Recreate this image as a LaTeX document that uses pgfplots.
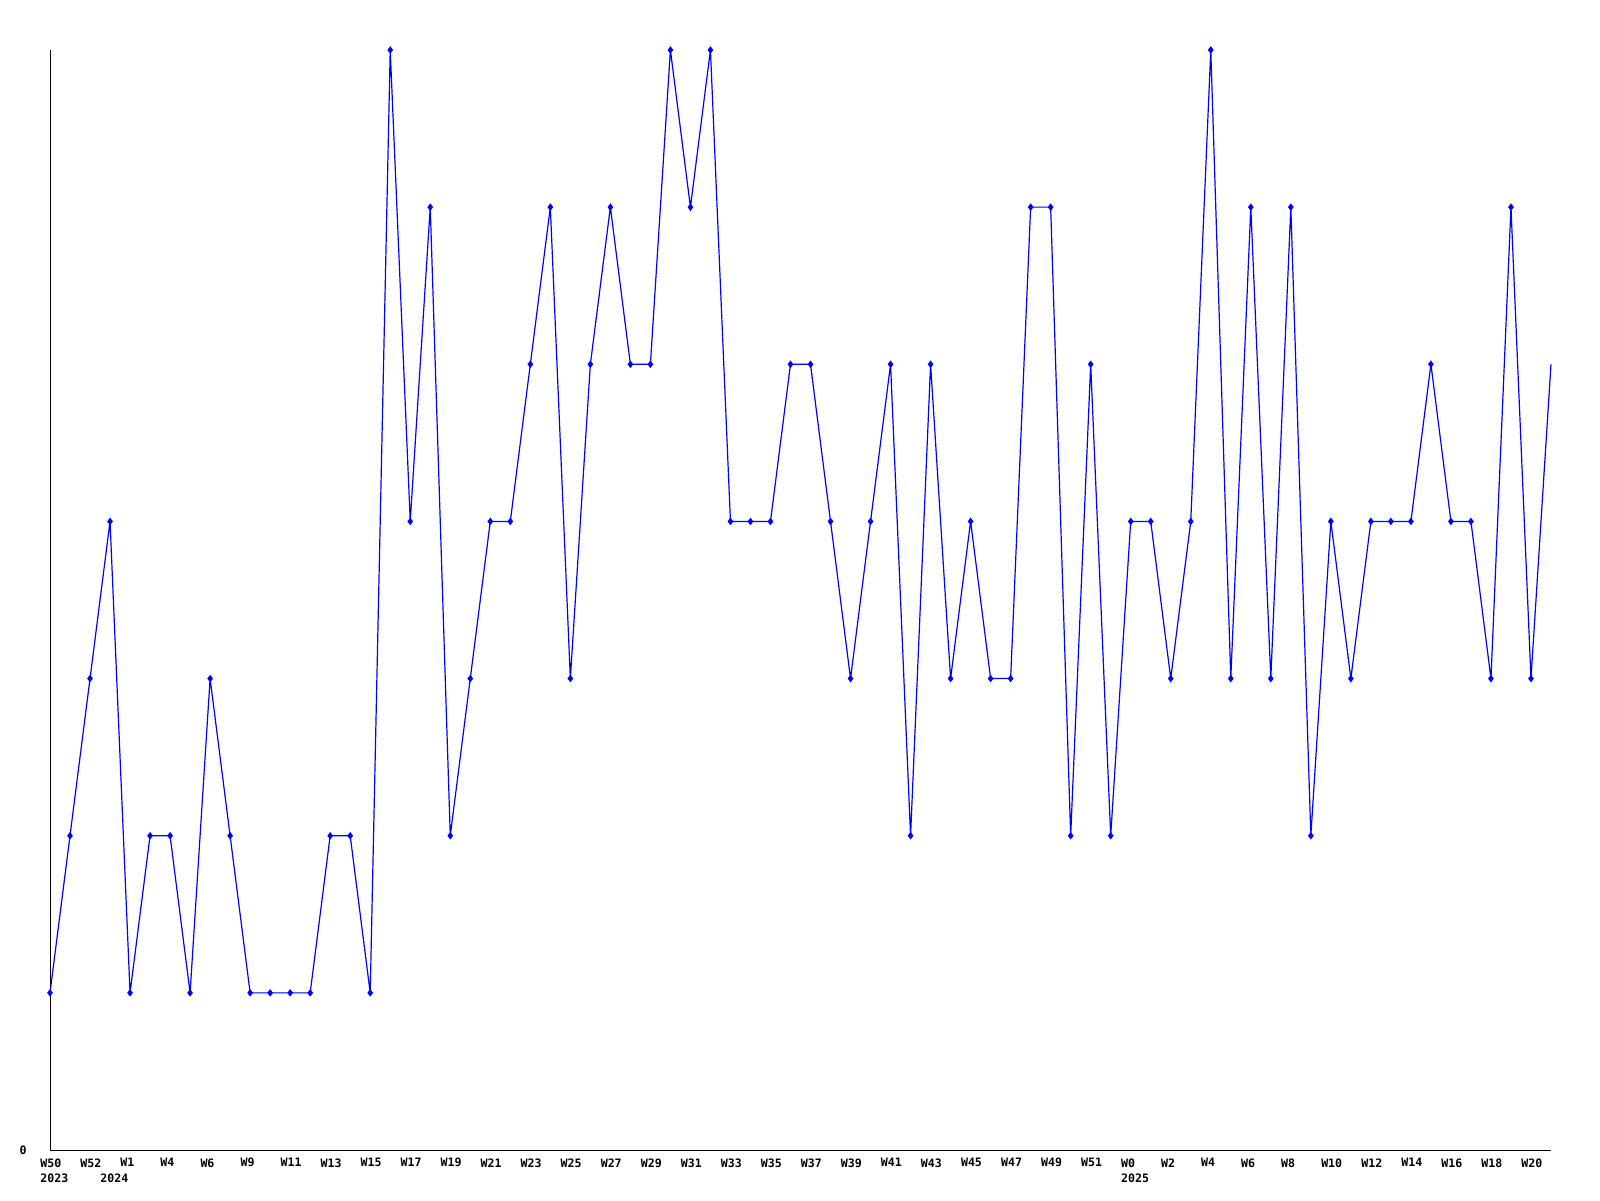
\documentclass[border=0pt]{standalone}
\usepackage{pgfplots}
\pgfplotsset{compat=1.18}
\usepackage{fontspec}
\setmainfont{DejaVu Sans Mono}
\setmonofont{DejaVu Sans Mono}
\begin{document}
\begin{tikzpicture}[x=1pt,y=1pt]
\useasboundingbox (0,0) rectangle (800,600);
\begin{axis}[
  at={(25pt,25pt)}, anchor=south west,
  scale only axis, width=750.5pt, height=550pt,
  xmin=0, xmax=75, ymin=0, ymax=7,
  axis lines=left, axis line style={-, line width=0.5pt, black},
  major tick length=0pt, minor tick length=0pt,
  /pgf/number format/assume math mode=true,
  xtick={0,2,...,74},
  xticklabels={W50,W52,W1,W4,W6,W9,W11,W13,W15,W17,W19,W21,W23,W25,W27,W29,W31,W33,W35,W37,W39,W41,W43,W45,W47,W49,W51,W0,W2,W4,W6,W8,W10,W12,W14,W16,W18,W20},
  extra x ticks={0,3,54},
  extra x tick labels={2023,2024,2025},
  extra x tick style={xticklabel style={yshift=-7.5pt}},
  xticklabel style={anchor=north west, inner sep=0pt, xshift=-5pt, yshift=-4pt, font=\fontsize{5.8}{6}\selectfont\bfseries},
  ytick={0},
  yticklabels={0},
  yticklabel style={anchor=east, inner sep=0pt, xshift=-11.5pt, font=\fontsize{5.8}{6}\selectfont\bfseries},
  clip=false,
]
\addplot[color={rgb,255:red,0;green,0;blue,255}, line width=0.6pt, mark=diamond*, mark size=1.4pt, mark indices={1,...,75}, mark options={solid}]
coordinates {
(0,1)(1,2)(2,3)(3,4)(4,1)(5,2)(6,2)(7,1)(8,3)(9,2)
(10,1)(11,1)(12,1)(13,1)(14,2)(15,2)(16,1)(17,7)(18,4)(19,6)
(20,2)(21,3)(22,4)(23,4)(24,5)(25,6)(26,3)(27,5)(28,6)(29,5)
(30,5)(31,7)(32,6)(33,7)(34,4)(35,4)(36,4)(37,5)(38,5)(39,4)
(40,3)(41,4)(42,5)(43,2)(44,5)(45,3)(46,4)(47,3)(48,3)(49,6)
(50,6)(51,2)(52,5)(53,2)(54,4)(55,4)(56,3)(57,4)(58,7)(59,3)
(60,6)(61,3)(62,6)(63,2)(64,4)(65,3)(66,4)(67,4)(68,4)(69,5)
(70,4)(71,4)(72,3)(73,6)(74,3)(75,5)
};
\end{axis}
\end{tikzpicture}
\end{document}
